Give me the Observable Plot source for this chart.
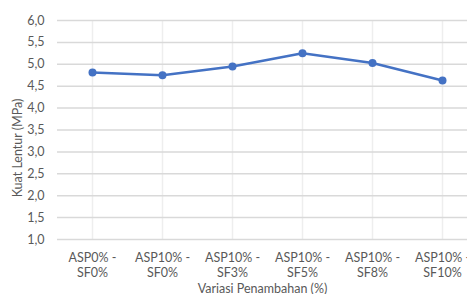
<!DOCTYPE html>
<html>
<head>
<meta charset="utf-8">
<script src="https://cdn.jsdelivr.net/npm/d3@7"></script>
<script src="https://cdn.jsdelivr.net/npm/@observablehq/plot@0.6"></script>
<style>
  html, body { margin: 0; padding: 0; background: #fff; }
  svg { font-family: Lato, "Noto Sans", sans-serif; }
</style>
</head>
<body>
<div id="chart"></div>
<script>
const categories = ["ASP0% -\nSF0%", "ASP10% -\nSF0%", "ASP10% -\nSF3%", "ASP10% -\nSF5%", "ASP10% -\nSF8%", "ASP10% -\nSF10%"];
const values = [4.81, 4.75, 4.95, 5.25, 5.03, 4.63];
const yTicks = [1.0, 1.5, 2.0, 2.5, 3.0, 3.5, 4.0, 4.5, 5.0, 5.5, 6.0];
const xLabel = "Variasi Penambahan (%)";
const yLabel = "Kuat Lentur (MPa)";

const data = categories.map((c, i) => ({cat: c, v: values[i]}));
const textColor = "#595959";

const chart = Plot.plot({
  width: 467,
  height: 294,
  marginLeft: 57,
  marginRight: 0,
  marginTop: 20,
  marginBottom: 55,
  style: {fontSize: "12px", color: textColor, fontFamily: "Lato, 'Noto Sans', sans-serif"},
  x: {type: "point", domain: categories, range: [92, 442], padding: 0},
  y: {domain: [1, 6]},
  marks: [
    Plot.ruleX(categories, {stroke: "#eeeeee", strokeWidth: 1.5}),
    Plot.ruleY(yTicks, {stroke: "#d9d9d9", strokeWidth: 1.5}),
    Plot.axisY({ticks: yTicks, tickSize: 0, tickPadding: 13, tickFormat: d => d.toFixed(1).replace(".", ","), label: null, fill: textColor, fontSize: 12.5}),
    Plot.axisX({tickSize: 0, tickPadding: 11, label: null, lineHeight: 1.25, fill: textColor, fontSize: 12.5}),
    Plot.text([xLabel], {frameAnchor: "bottom", dy: 53, fill: textColor, fontSize: 12.5}),
    Plot.text([yLabel], {frameAnchor: "left", rotate: -90, textAnchor: "middle", dx: -40, dy: 18, fill: textColor, fontSize: 12.5}),
    Plot.line(data, {x: "cat", y: "v", stroke: "#4472C4", strokeWidth: 2.5}),
    Plot.dot(data, {x: "cat", y: "v", fill: "#4472C4", r: 4})
  ]
});
document.getElementById("chart").appendChild(chart);
</script>
</body>
</html>
